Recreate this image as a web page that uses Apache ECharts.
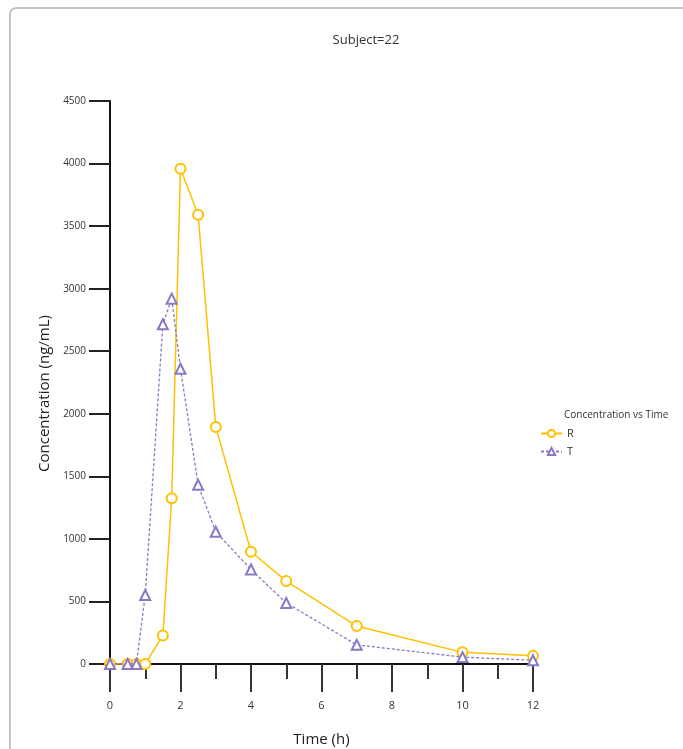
<!DOCTYPE html>
<html><head><meta charset="utf-8">
<script src="https://cdn.jsdelivr.net/npm/echarts@6/dist/echarts.min.js"></script>
<style>html,body{margin:0;padding:0;background:#fff}#c{width:683px;height:749px}</style>
</head><body><div id="c"></div>
<script>
var timesR = [0, 0.5, 0.75, 1, 1.5, 1.75, 2, 2.5, 3, 4, 5, 7, 10, 12];
var concR  = [0, 0, 0, 0, 228, 1325, 3958, 3590, 1895, 897, 663, 303, 93, 65];
var timesT = [0, 0.5, 0.75, 1, 1.5, 1.75, 2, 2.5, 3, 4, 5, 7, 10, 12];
var concT  = [0, 0, 0, 552, 2715, 2920, 2360, 1432, 1057, 755, 488, 153, 55, 30];
var xTicks = [0, 2, 4, 6, 8, 10, 12];
var yTicks = [0, 500, 1000, 1500, 2000, 2500, 3000, 3500, 4000, 4500];

function pairs(xs, ys){ return xs.map(function(x,i){ return [x, ys[i]]; }); }
var font = '"Open Sans", "Noto Sans", sans-serif';
var chart = echarts.init(document.getElementById('c'));
chart.setOption({
  animation: false,
  backgroundColor: '#fff',
  textStyle: { fontFamily: font },
  graphic: [{
    type: 'rect', shape: { x: 10, y: 8, width: 700, height: 760, r: 6 },
    style: { fill: 'none', stroke: '#b4b4b4', lineWidth: 1.5 }, silent: true
  }],
  title: [
    { text: 'Subject=22', left: 361, top: 29, textAlign: 'center',
      textStyle: { fontSize: 13, fontWeight: 'normal', color: '#333', fontFamily: font } },
    { text: 'Concentration vs Time', left: 559, top: 405,
      textStyle: { fontSize: 10, fontWeight: 'normal', color: '#333', fontFamily: font } }
  ],
  legend: {
    orient: 'vertical', left: 535, top: 423, itemGap: 7, itemWidth: 21, itemHeight: 9,
    textStyle: { fontSize: 11, color: '#333', fontFamily: font },
    data: ['R', 'T']
  },
  grid: { left: 110, right: 150, top: 101, bottom: 85, containLabel: false, outerBoundsMode: 'none' },
  xAxis: {
    type: 'value', min: 0, max: 12, interval: 2,
    name: 'Time (h)', nameLocation: 'middle', nameGap: 68,
    nameTextStyle: { fontSize: 15, color: '#222', fontFamily: font },
    axisLine: { onZero: false, lineStyle: { color: '#111', width: 2 } },
    axisTick: { length: 28, lineStyle: { color: '#333', width: 2 } },
    minorTick: { show: true, splitNumber: 2, length: 15, lineStyle: { color: '#333', width: 2 } },
    axisLabel: { margin: 36, fontSize: 11, color: '#333',
      formatter: function(v){ return xTicks.indexOf(v) >= 0 ? String(v) : ''; } },
    splitLine: { show: false }
  },
  yAxis: {
    type: 'value', min: 0, max: 4500, interval: 500,
    name: 'Concentration (ng/mL)', nameLocation: 'middle', nameGap: 56,
    nameTextStyle: { fontSize: 15, color: '#222', fontFamily: font, padding: [0, 22, 0, 0] },
    axisLine: { show: true, lineStyle: { color: '#111', width: 2 } },
    axisTick: { show: true, length: 21, lineStyle: { color: '#222', width: 2 } },
    axisLabel: { margin: 24, fontSize: 10, color: '#333',
      formatter: function(v){ return yTicks.indexOf(v) >= 0 ? String(v) : ''; } },
    splitLine: { show: false }
  },
  series: [
    { name: 'R', type: 'line', data: pairs(timesR, concR),
      symbol: 'emptyCircle', symbolSize: 10, showAllSymbol: true,
      itemStyle: { color: '#FFC000', borderWidth: 1.3 },
      lineStyle: { color: '#FFC000', width: 1.5 }, z: 2 },
    { name: 'T', type: 'line', data: pairs(timesT, concT),
      symbol: 'emptyTriangle', symbolSize: 10, showAllSymbol: true,
      itemStyle: { color: '#8a78c4', borderWidth: 1.3 },
      lineStyle: { color: '#8a78c4', width: 1.3, type: [3, 2] }, z: 3 }
  ]
});
</script></body></html>
